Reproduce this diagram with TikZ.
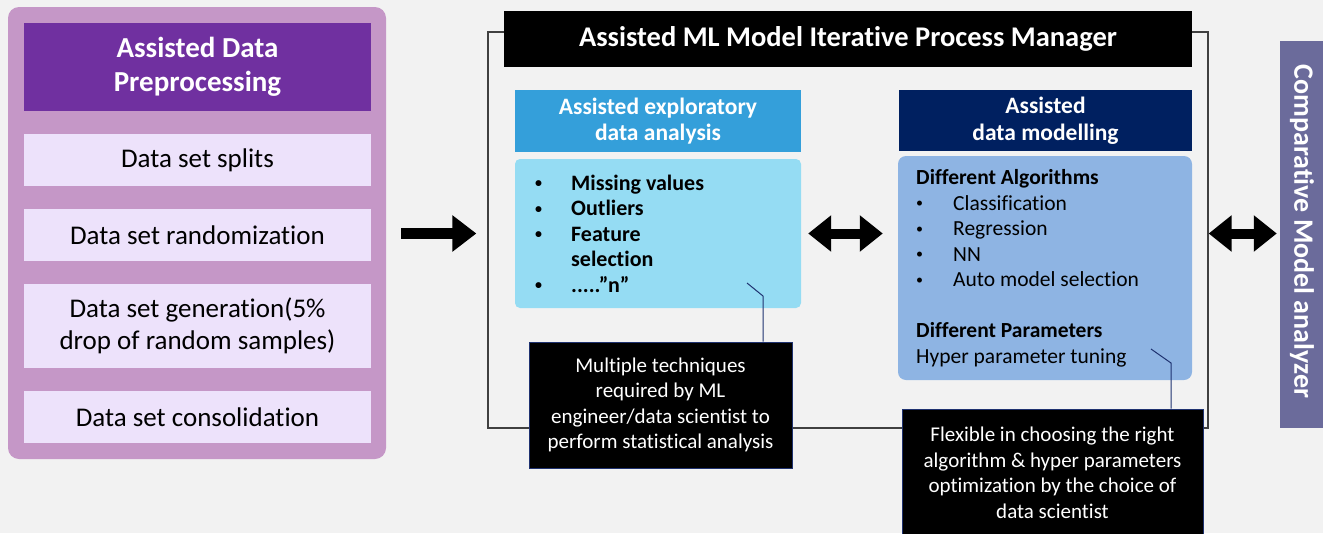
\documentclass[tikz,border=0pt]{standalone}
\usepackage{fontspec}
\setmainfont[Ligatures=NoCommon]{Carlito}
\usepackage{tikz}
\usetikzlibrary{arrows.meta}
\definecolor{bggray}{HTML}{F2F2F2}
\definecolor{prepback}{HTML}{C597C7}
\definecolor{prephead}{HTML}{7030A0}
\definecolor{prepitem}{HTML}{EDE2FB}
\definecolor{edahead}{HTML}{349FDA}
\definecolor{edabody}{HTML}{95DCF3}
\definecolor{modhead}{HTML}{002060}
\definecolor{modbody}{HTML}{8EB4E3}
\definecolor{cmpback}{HTML}{6B6B9B}
\definecolor{callblue}{HTML}{1F3270}
\newcommand{\blt}[1]{\makebox[#1][l]{\raisebox{2.5pt}{\fontsize{14}{14}\selectfont\textbullet}}}
\tikzstyle{item}=[fill=prepitem,minimum width=347pt,inner sep=0pt,align=center,font=\fontsize{27}{32}\selectfont]
\tikzstyle{head}=[text=white,inner sep=0pt,align=center,font=\bfseries\fontsize{23.5}{26.5}\selectfont]
\tikzstyle{note}=[fill=black,draw=callblue,line width=1pt,text=white,inner sep=0pt,align=center,font=\fontsize{21}{25.5}\selectfont]
\tikzstyle{callline}=[draw=callblue,line width=1pt]
\tikzstyle{bigarrow}=[draw,line width=11pt,-{Triangle[length=24pt,width=35pt]}]
\tikzstyle{bigboth}=[draw,line width=10pt,{Triangle[length=23pt,width=35pt]}-{Triangle[length=23pt,width=35pt]}]

\begin{document}
\begin{tikzpicture}[x=1pt,y=-1pt]
  \clip (0,0) rectangle (1323,533);
  \fill[bggray] (0,0) rectangle (1323,533);
  % preprocessing
  \node[fill=prepback,rounded corners=11pt,minimum width=378pt,minimum height=452pt,inner sep=0pt] (prep) at (197,233) {};
  \node[head,fill=prephead,minimum width=347pt,minimum height=88pt,font=\bfseries\fontsize{29}{34}\selectfont] (prephead) at (197.5,67) {Assisted Data\\Preprocessing};
  \node[item,minimum height=52pt] (splits) at (197.5,160) {Data set splits};
  \node[item,minimum height=52pt] (random) at (197.5,235) {Data set randomization};
  \node[item,minimum height=84pt] (generate) at (197.5,326) {Data set generation(5\%\\drop of random samples)};
  \node[item,minimum height=52pt] (consol) at (197.5,417) {Data set consolidation};

  % process manager
  \node[draw=black!75,line width=1.3pt,minimum width=720pt,minimum height=396pt,inner sep=0pt] (frame) at (848,230) {};
  \node[fill=black,text=white,minimum width=688pt,minimum height=56pt,inner sep=0pt,font=\bfseries\fontsize{28.5}{32}\selectfont] (title) at (848,39) {Assisted ML Model Iterative Process Manager};

  \node[head,fill=edahead,minimum width=286pt,minimum height=62pt] (edahead) at (658,121) {Assisted exploratory\\data analysis};
  \node[fill=edabody,rounded corners=5pt,minimum width=286pt,minimum height=149pt] (edabody) at (658,233.5) {};
  \node[anchor=west,align=left,inner sep=0pt,font=\bfseries\fontsize{22}{25.5}\selectfont] (edalist) at (535,233.5)
    {\blt{36pt}Missing values\\ \blt{36pt}Outliers\\ \blt{36pt}Feature\\ \hspace*{36pt}selection\\ \blt{36pt}.....''n''};

  \node[head,fill=modhead,minimum width=293pt,minimum height=61pt] (modhead) at (1045.5,120.5) {Assisted\\data modelling};
  \node[fill=modbody,rounded corners=8pt,minimum width=294pt,minimum height=224pt] (modbody) at (1045,268) {};
  \node[anchor=west,align=left,inner sep=0pt,font=\fontsize{21.5}{25.5}\selectfont] (modlist) at (916,268.5)
    {\textbf{Different Algorithms}\\ \blt{37pt}Classification\\ \blt{37pt}Regression\\ \blt{37pt}NN\\ \blt{37pt}Auto model selection\\[25.5pt]
     \textbf{Different Parameters}\\ Hyper parameter tuning};

  % analyzer
  \node[fill=cmpback,minimum width=45pt,minimum height=387pt,inner sep=0pt] (cmp) at (1302.5,234.5) {};
  \node[rotate=-90,text=white,inner sep=0pt,font=\bfseries\fontsize{28}{32}\selectfont] (cmptext) at (1302,231.5) {Comparative Model analyzer};

  % notes
  \node[note,minimum width=263pt,minimum height=126pt] (note1) at (660.5,405) {Multiple techniques\\required by ML\\engineer/data scientist to\\perform statistical analysis};
  \node[note,minimum width=301pt,minimum height=128pt] (note2) at (1052.5,473) {Flexible in choosing the right\\algorithm \& hyper parameters\\optimization by the choice of\\data scientist};
  \coordinate (tip1) at (747,283);
  \coordinate (bend1) at (763,296);
  \draw[callline] (tip1) -- (bend1) -- (bend1 |- note1.north);
  \coordinate (tip2) at (1151,349);
  \coordinate (bend2) at (1171,363);
  \draw[callline] (tip2) -- (bend2) -- (bend2 |- note2.north);

  % arrows
  \draw[bigarrow,shorten <=15pt,shorten >=11pt] (prep.east |- edabody) -- (frame.west |- edabody);
  \draw[bigboth,shorten <=7pt,shorten >=15pt] (edabody.east) -- (edabody.east -| modbody.west);
  \draw[bigboth,shorten >=3pt] (frame.east |- edabody) -- (cmp.west |- edabody);
\end{tikzpicture}
\end{document}
